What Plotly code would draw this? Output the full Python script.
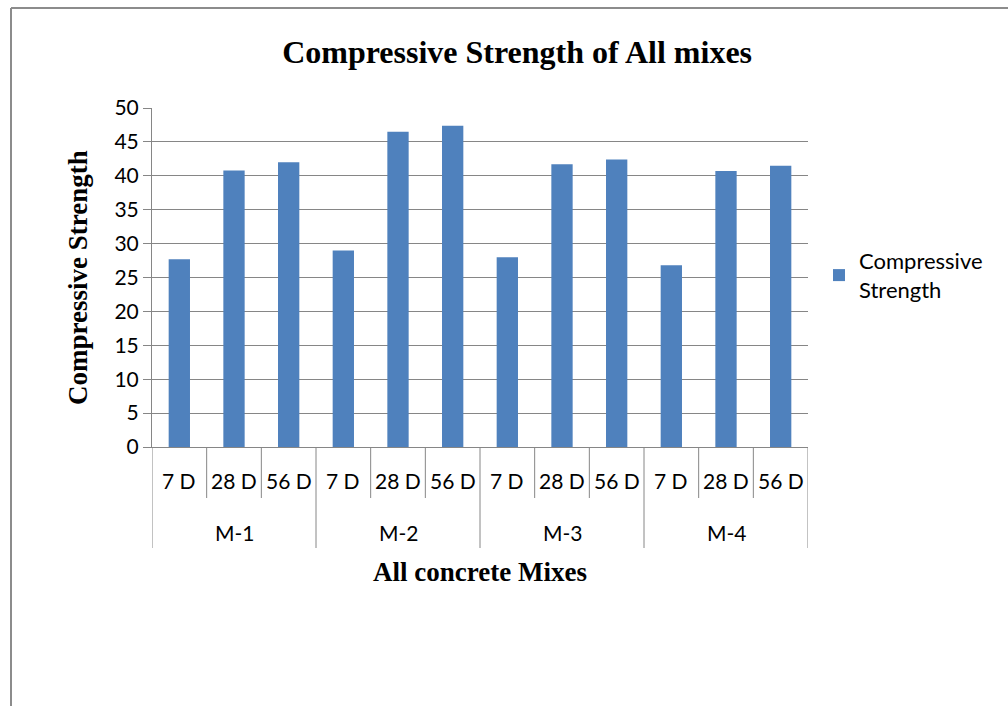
import plotly.graph_objects as go

mix_names = ["M-1", "M-2", "M-3", "M-4"]
age_names = ["7 D", "28 D", "56 D"]
strength = [27.7, 40.8, 42.0, 29.0, 46.5, 47.4, 28.0, 41.7, 42.4, 26.8, 40.7, 41.5]
y_ticks = [0, 5, 10, 15, 20, 25, 30, 35, 40, 45, 50]

n_age = len(age_names)
labels_inner = [a for m in mix_names for a in age_names]
xpos = list(range(len(labels_inner)))

L, R, T, B = 152, 200, 108, 259
W, H = 1008 - L - R, 706 - T - B

def py(pix):
    return 1 - (pix - T) / H

def px(pix):
    return (pix - L) / W

fig = go.Figure()
fig.add_trace(go.Bar(
    x=xpos, y=strength,
    name="Compressive<br>Strength",
    marker=dict(color="#4F81BD", line=dict(width=0)),
    width=0.39,
))

fig.update_layout(
    width=1008, height=706,
    margin=dict(l=L, r=R, t=T, b=B),
    paper_bgcolor="white", plot_bgcolor="white",
    title=dict(text="<b>Compressive Strength of All mixes</b>", x=0.513, xanchor="center",
               y=1 - 52 / 706, yanchor="middle",
               font=dict(family="Liberation Serif", size=32, color="black")),
    font=dict(family="Lato", size=21, color="black"),
    showlegend=True,
    legend=dict(x=px(819), y=py(240), yanchor="top", xanchor="left",
                font=dict(family="Lato", size=22, color="black"),
                bgcolor="rgba(0,0,0,0)", tracegroupgap=0),
)
fig.update_yaxes(
    range=[0, 50], tickvals=y_ticks, showgrid=True, gridcolor="#868686", gridwidth=1,
    showline=True, linecolor="#868686", linewidth=1,
    ticks="outside", ticklen=8, tickcolor="#868686",
    tickfont=dict(family="Lato", size=21, color="black"),
    zeroline=False,
)
fig.update_xaxes(
    range=[-0.5, len(xpos) - 0.5], showgrid=False, zeroline=False,
    showline=True, linecolor="#868686", linewidth=1,
    showticklabels=False, ticks="",
)

line_style = dict(color="#868686", width=1)
# inner category labels and separators
for i, lab in enumerate(labels_inner):
    fig.add_annotation(x=xpos[i], y=py(480), xref="x", yref="paper", text=lab,
                       showarrow=False, font=dict(family="Lato", size=21, color="black"),
                       xanchor="center", yanchor="middle")
for k in range(len(xpos) + 1):
    bottom = 548 if k % n_age == 0 else 498
    fig.add_shape(type="line", xref="x", yref="paper", x0=k - 0.5, x1=k - 0.5,
                  y0=0, y1=py(bottom), line=line_style)
# outer group labels
for g, m in enumerate(mix_names):
    fig.add_annotation(x=g * n_age + (n_age - 1) / 2, y=py(532), xref="x", yref="paper", text=m,
                       showarrow=False, font=dict(family="Lato", size=21, color="black"),
                       xanchor="center", yanchor="middle")

# axis titles
fig.add_annotation(x=px(480), y=py(572), xref="paper", yref="paper",
                   text="<b>All concrete Mixes</b>", showarrow=False,
                   font=dict(family="Liberation Serif", size=27, color="black"),
                   xanchor="center", yanchor="middle")
fig.add_annotation(x=px(78), y=py(278), xref="paper", yref="paper",
                   text="<b>Compressive Strength</b>", showarrow=False, textangle=-90,
                   font=dict(family="Liberation Serif", size=27, color="black"),
                   xanchor="center", yanchor="middle")

# outer chart border (left and top)
border = dict(color="#8c8c8c", width=2)
fig.add_shape(type="line", xref="paper", yref="paper", x0=px(11), x1=px(1010),
              y0=py(8), y1=py(8), line=border)
fig.add_shape(type="line", xref="paper", yref="paper", x0=px(11), x1=px(11),
              y0=py(8), y1=py(710), line=border)

fig.write_html("out.html", config={"displayModeBar": False},
               post_script="document.body.style.margin='0';")
